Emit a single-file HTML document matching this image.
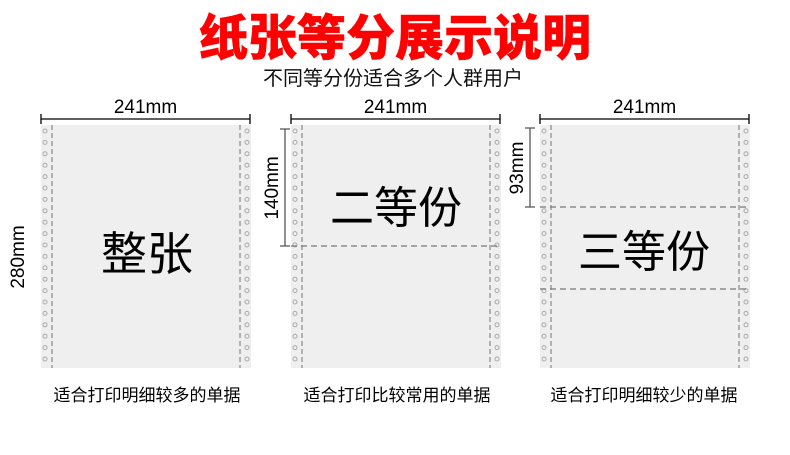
<!DOCTYPE html>
<html><head><meta charset="utf-8"><style>
html,body{margin:0;padding:0;background:#fff;width:790px;height:455px;overflow:hidden}
svg text{font-family:"Liberation Sans","Noto Sans CJK SC",sans-serif}
</style></head><body>
<svg id="s" width="790" height="455" xmlns="http://www.w3.org/2000/svg">
<text x="395" y="55" text-anchor="middle" font-size="49" font-weight="900" fill="#f00" stroke="#f00" stroke-width="0.4" style="font-family:'Noto Sans CJK SC',sans-serif">纸张等分展示说明</text>
<text x="393" y="85" text-anchor="middle" font-size="20" fill="#111">不同等分份适合多个人群用户</text>
<g id="panels"></g>
<g stroke="#000" stroke-width="1.3" fill="none">
<path d="M41 119H250M41 114v10M250 114v10"/>
<path d="M291 119H500M291 114v10M500 114v10"/>
<path d="M540 119H749M540 114v10M749 114v10"/>
</g>
<g stroke="#555" stroke-width="1.3" fill="none">
<path d="M285 129V246M280 129h10M280 246h10"/>
<path d="M530 128V207M525 128h10M525 207h10"/>
</g>
<text x="145.5" y="113" text-anchor="middle" font-size="19">241mm</text>
<text x="395.5" y="113" text-anchor="middle" font-size="19">241mm</text>
<text x="644.5" y="113" text-anchor="middle" font-size="19">241mm</text>
<text transform="translate(24,257) rotate(-90)" text-anchor="middle" font-size="19">280mm</text>
<text transform="translate(278,188) rotate(-90)" text-anchor="middle" font-size="19">140mm</text>
<text transform="translate(523,168) rotate(-90)" text-anchor="middle" font-size="19">93mm</text>
<text x="147" y="270" text-anchor="middle" font-size="46">整张</text>
<text x="396" y="223" text-anchor="middle" font-size="44">二等份</text>
<text x="644" y="267" text-anchor="middle" font-size="44">三等份</text>
<text x="147" y="401" text-anchor="middle" font-size="17">适合打印明细较多的单据</text>
<text x="397" y="401" text-anchor="middle" font-size="17">适合打印比较常用的单据</text>
<text x="644" y="401" text-anchor="middle" font-size="17">适合打印明细较少的单据</text>
</svg>
<script>
var g=document.getElementById('panels'),h='';
var xs=[41,291,540],splits=[[],[246],[207,289]];
xs.forEach(function(x,i){
 h+='<rect x="'+x+'" y="125" width="210" height="243" fill="#efefef"/>';
 h+='<path d="M'+(x+11)+' 125V368M'+(x+199)+' 125V368" stroke="#888" stroke-width="1.2" stroke-dasharray="5 3"/>';
 for(var y=131;y<366;y+=11.4){
  h+='<circle cx="'+(x+4)+'" cy="'+y.toFixed(1)+'" r="2" fill="none" stroke="#aaa" stroke-width="1"/>';
  h+='<circle cx="'+(x+206)+'" cy="'+y.toFixed(1)+'" r="2" fill="none" stroke="#aaa" stroke-width="1"/>';
 }
 splits[i].forEach(function(y){h+='<path d="M'+x+' '+y+'H'+(x+210)+'" stroke="#777" stroke-width="1.2" stroke-dasharray="6 4"/>';});
});
g.innerHTML=h;
</script>
</body></html>
